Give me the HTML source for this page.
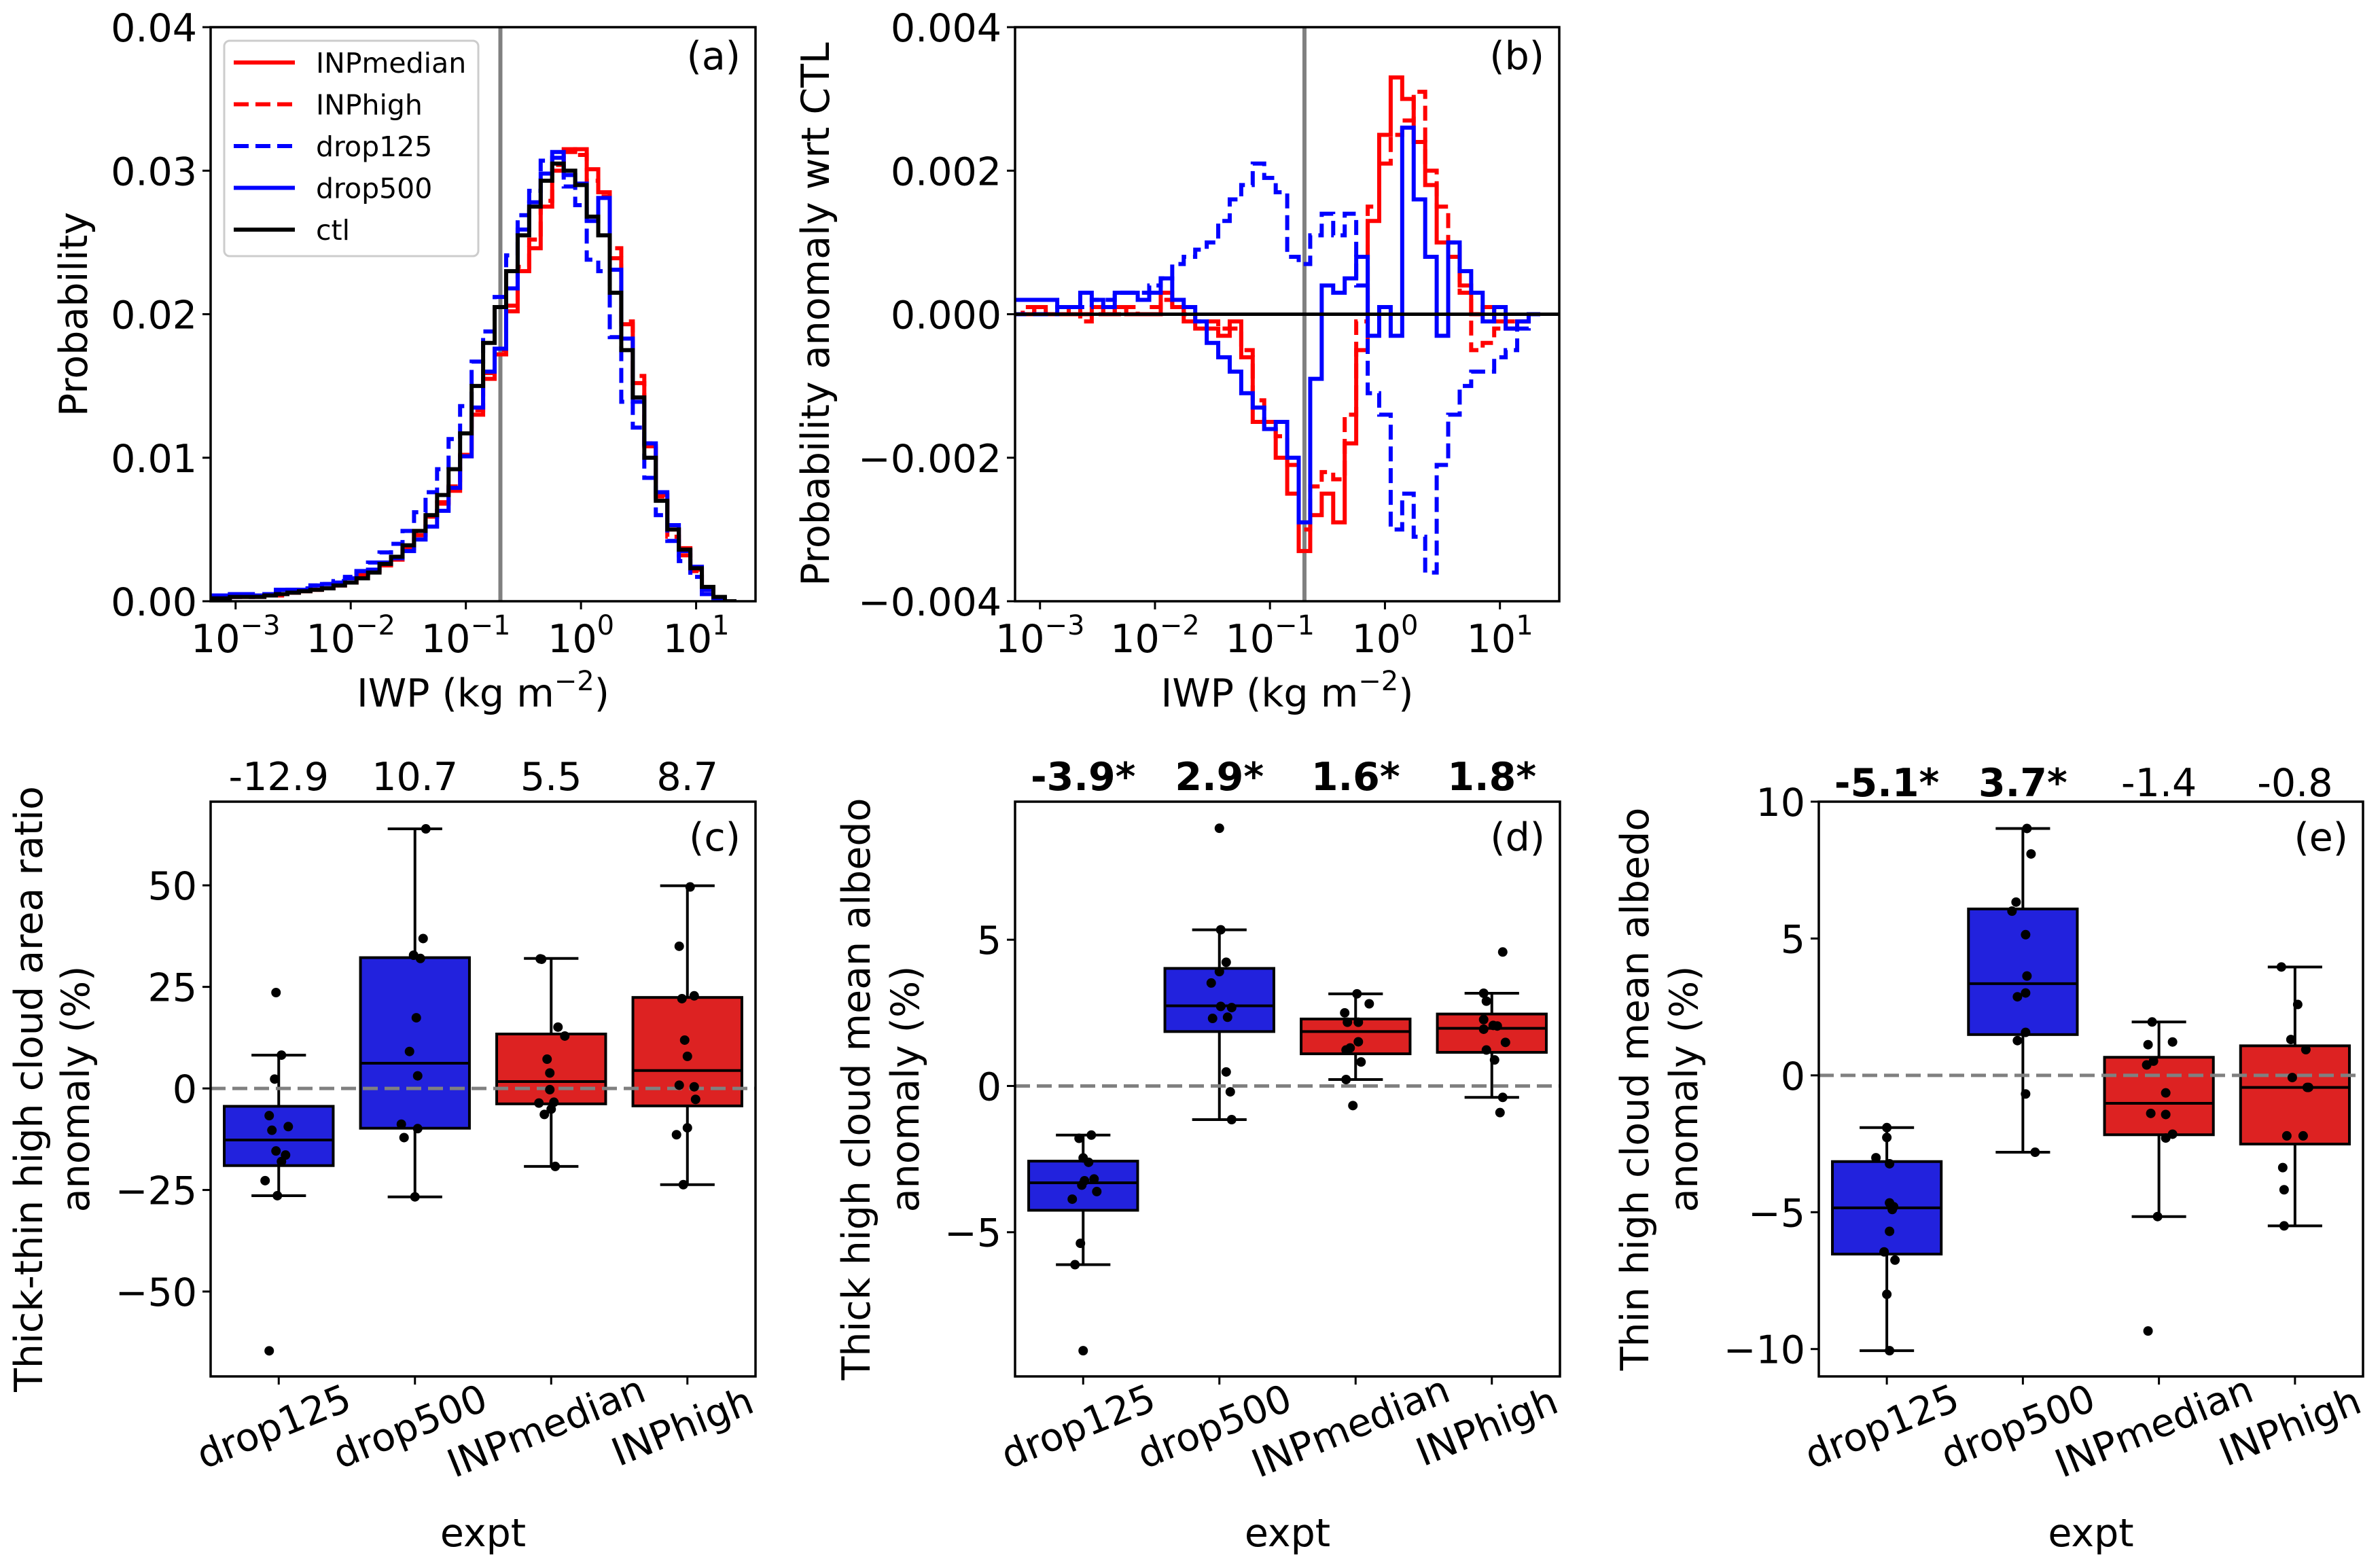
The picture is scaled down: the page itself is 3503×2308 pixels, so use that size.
<!DOCTYPE html>
<html><head><meta charset="utf-8"><style>
html,body{margin:0;padding:0;background:#fff}
svg{display:block}
text{font-family:"DejaVu Sans","Liberation Sans",sans-serif;fill:#000}
</style></head><body>
<svg id="fig" xmlns="http://www.w3.org/2000/svg" width="3503" height="2308" viewBox="0 0 3503 2308"></svg>
<script>
// ---------- DATA ----------
const iwpLog = [-3.2,-3.1,-3.0,-2.9,-2.8,-2.7,-2.6,-2.5,-2.4,-2.3,-2.2,-2.1,-2.0,-1.9,-1.8,-1.7,-1.6,-1.5,-1.4,-1.3,-1.2,-1.1,-1.0,-0.9,-0.8,-0.7,-0.6,-0.5,-0.4,-0.3,-0.2,-0.1,0.0,0.1,0.2,0.3,0.4,0.5,0.6,0.7,0.8,0.9,1.0,1.1,1.2,1.3];
const probCtl = [.0002,.0002,.0003,.0003,.0003,.0004,.0005,.0006,.0007,.0008,.0009,.0011,.0013,.0016,.0020,.0026,.0031,.0039,.0049,.0060,.0074,.0092,.0117,.0150,.0180,.0205,.0230,.0255,.0275,.0293,.0305,.0300,.0290,.0268,.0255,.0215,.0175,.0142,.0100,.0070,.0050,.0036,.0023,.0010,.0003,.0000];
const probINPmedian = [.0002,.0002,.0003,.0003,.0003,.0004,.0005,.0006,.0007,.0008,.0009,.0011,.0013,.0019,.0021,.0025,.0029,.0037,.0046,.0059,.0068,.0077,.0101,.0130,.0155,.0172,.0202,.0230,.0246,.0275,.0300,.0313,.0315,.0301,.0285,.0239,.0193,.0152,.0108,.0074,.0050,.0037,.0022,.0008,.0002,.0000];
const probINPhigh = [.0002,.0003,.0003,.0003,.0004,.0004,.0004,.0006,.0008,.0008,.0009,.0011,.0013,.0018,.0021,.0026,.0030,.0038,.0047,.0059,.0069,.0080,.0102,.0133,.0159,.0175,.0206,.0233,.0252,.0279,.0304,.0315,.0311,.0293,.0282,.0246,.0195,.0157,.0110,.0073,.0045,.0032,.0021,.0009,.0002,.0000];
const probDrop125 = [.0002,.0002,.0003,.0003,.0004,.0005,.0006,.0008,.0009,.0011,.0012,.0014,.0017,.0021,.0027,.0034,.0040,.0049,.0062,.0076,.0092,.0113,.0136,.0167,.0188,.0212,.0241,.0269,.0286,.0307,.0309,.0289,.0276,.0238,.0230,.0184,.0139,.0121,.0086,.0060,.0042,.0028,.0017,.0005,.0001,.0000];
const probDrop500 = [.0004,.0004,.0005,.0005,.0004,.0005,.0008,.0008,.0008,.0011,.0012,.0013,.0016,.0021,.0022,.0027,.0030,.0035,.0043,.0052,.0063,.0079,.0101,.0135,.0160,.0176,.0218,.0259,.0278,.0298,.0313,.0297,.0291,.0265,.0281,.0231,.0183,.0139,.0110,.0076,.0053,.0035,.0024,.0008,.0002,.0000];

const anomDrop125 = [.0000,.0000,.0000,.0000,.0001,.0001,.0001,.0002,.0002,.0003,.0003,.0003,.0004,.0005,.0007,.0008,.0009,.0010,.0013,.0016,.0018,.0021,.0019,.0017,.0008,.0007,.0011,.0014,.0011,.0014,.0004,-.0011,-.0014,-.0030,-.0025,-.0031,-.0036,-.0021,-.0014,-.0010,-.0008,-.0008,-.0006,-.0005,-.0002,.0000];
const anomDrop500 = [.0002,.0002,.0002,.0002,.0001,.0001,.0003,.0002,.0001,.0003,.0003,.0002,.0003,.0005,.0002,.0001,-.0001,-.0004,-.0006,-.0008,-.0011,-.0013,-.0016,-.0015,-.0020,-.0029,-.0009,.0004,.0003,.0005,.0008,-.0003,.0001,-.0003,.0026,.0016,.0008,-.0003,.0010,.0006,.0003,-.0001,.0001,-.0002,-.0001,.0000];
const anomINPmedian = [.0000,.0000,.0001,.0000,.0000,.0001,.0000,.0001,.0000,.0001,.0000,.0000,.0000,.0003,.0001,-.0001,-.0002,-.0002,-.0003,-.0001,-.0006,-.0015,-.0016,-.0020,-.0025,-.0033,-.0028,-.0025,-.0029,-.0018,-.0005,.0013,.0025,.0033,.0030,.0024,.0018,.0010,.0008,.0004,.0000,.0001,-.0001,-.0002,-.0001,.0000];
const anomINPhigh = [.0000,.0001,.0000,.0000,.0001,.0000,-.0001,.0000,.0001,.0000,.0001,.0000,.0001,.0002,.0001,.0000,-.0001,-.0001,-.0002,-.0002,-.0005,-.0012,-.0015,-.0017,-.0021,-.0030,-.0024,-.0022,-.0023,-.0014,-.0001,.0015,.0021,.0025,.0027,.0031,.0020,.0015,.0010,.0003,-.0005,-.0004,-.0002,-.0001,-.0001,.0000];

const probTicks = [0,0.01,0.02,0.03,0.04];
const probTickLabels = ["0.00","0.01","0.02","0.03","0.04"];
const anomTicks = [-0.004,-0.002,0,0.002,0.004];
const anomTickLabels = ["\u22120.004","\u22120.002","0.000","0.002","0.004"];
const logTicks = [-3,-2,-1,0,1];
const logTickLabels = ["\u22123","\u22122","\u22121","0","1"];
const iwpThresholdLog = -0.7;

const expts = ["drop125","drop500","INPmedian","INPhigh"];
// panel c
const cQ1 = [-19.0,-9.8,-3.8,-4.3], cQ3 = [-4.4,32.2,13.4,22.4], cMed = [-12.7,6.2,1.7,4.4], cLo = [-26.4,-26.7,-19.2,-23.7], cHi = [8.2,63.9,32,49.9];
const cPts = [[23.6,8.2,2.3,-6.7,-10.3,-9.4,-15.4,-16.4,-18,-22.7,-26.4,-64.6],[63.9,36.9,32.8,32,17.4,9.1,3.1,-8.8,-9.9,-12.1,-26.7],[31.9,31.8,15.1,12.9,7.2,3.8,-0.3,-3.4,-3.6,-5.1,-6.4,-19.2],[49.6,35,22.8,22.1,11.9,7.9,0.8,0.4,-2.7,-9.7,-11.4,-23.7]];
const cJit = [[-.02,.02,-.03,-.07,-.05,.07,-.02,.05,.02,-.1,-.01,-.07],[.08,.06,-.01,.04,.01,-.04,.02,-.1,.02,-.08,0],[-.08,-.07,.05,.1,-.03,-.01,-.01,.02,-.09,0,-.05,.03],[.02,-.06,.05,-.04,-.02,0,-.06,.05,.06,0,-.08,-.03]];
const cMeans = ["-12.9","10.7","5.5","8.7"], cBold=[false,false,false,false];
const cTicks = [-50,-25,0,25,50], cTickLabels = ["\u221250","\u221225","0","25","50"];
// panel d
const dQ1 = [-4.25,1.86,1.10,1.15], dQ3 = [-2.57,4.02,2.29,2.46], dMed = [-3.31,2.74,1.86,1.97], dLo = [-6.11,-1.15,0.22,-0.39], dHi = [-1.68,5.34,3.15,3.17];
const dPts = [[-1.68,-1.79,-2.46,-2.61,-3.18,-3.24,-3.39,-3.61,-3.87,-5.38,-6.11,-9.05],[8.81,5.34,4.23,3.91,3.52,2.72,2.68,2.35,2.31,0.48,-0.2,-1.15],[3.15,2.81,2.5,2.18,2.18,1.51,1.23,1.3,0.82,0.22,-0.67],[4.58,3.17,2.9,2.27,2.07,2.05,1.94,1.49,1.23,0.89,-0.39,-0.91]];
const dJit = [[.06,-.03,0,.04,.08,.01,-.01,.1,-.08,-.02,-.06,0],[0,.01,.05,0,-.06,.01,.09,.06,-.05,.05,.08,.09],[.01,.1,-.08,-.06,.02,.02,-.07,-.04,.04,-.07,-.02],[.08,-.06,-.04,-.06,.01,.04,-.06,.1,-.04,.02,.08,.06]];
const dMeans = ["-3.9*","2.9*","1.6*","1.8*"], dBold=[true,true,true,true];
const dTicks = [-5,0,5], dTickLabels = ["\u22125","0","5"];
// panel e
const eQ1 = [-6.53,1.49,-2.17,-2.51], eQ3 = [-3.15,6.08,0.66,1.08], eMed = [-4.84,3.35,-1.02,-0.44], eLo = [-10.06,-2.81,-5.16,-5.5], eHi = [-1.91,9.02,1.95,3.96];
const ePts = [[-1.91,-2.27,-3.01,-3.23,-4.66,-4.8,-4.9,-5.7,-6.45,-6.75,-8.0,-10.06],[9.02,8.09,6.33,6.0,5.14,3.63,3.01,2.87,1.57,1.27,-0.68,-2.81],[1.95,1.22,1.12,0.52,0.38,-0.64,-1.39,-1.43,-2.15,-2.29,-5.16,-9.34],[3.96,2.59,1.31,0.94,-0.08,-0.44,-0.44,-2.21,-2.21,-3.37,-4.18,-5.5]];
const eJit = [[0,0,-.08,.02,.02,.05,.04,.02,-.02,.06,0,.02],[.03,.06,-.05,-.08,.02,.03,.02,-.04,.02,-.04,.02,.09],[-.05,.1,-.08,-.04,-.09,.05,-.06,.05,.1,.05,-.01,-.08],[-.1,.02,-.03,.08,-.02,.1,.09,-.06,.06,-.09,-.08,-.08]];
const eMeans = ["-5.1*","3.7*","-1.4","-0.8"], eBold=[true,true,false,false];
const eTicks = [-10,-5,0,5,10], eTickLabels = ["\u221210","\u22125","0","5","10"];

// ---------- RENDER ----------
const NS="http://www.w3.org/2000/svg";
const svg=document.getElementById('fig');
function mk(tag,attrs,parent){const e=document.createElementNS(NS,tag);for(const k in attrs)e.setAttribute(k,attrs[k]);(parent||svg).appendChild(e);return e;}
function txt(str,x,y,size,anchor,parent,extra){const t=mk('text',Object.assign({x:x,y:y,'font-size':size,'text-anchor':anchor||'middle'},extra||{}),parent);t.textContent=str;return t;}
const FS=57;
const BLUE='#2222dd', RED='#dd2222';

function histPanel(id,x0,x1,y0,y1,ymin,ymax,yTicks,yTickLbl,series,ylabel,ylabX,plabel,zeroLine){
  const g=mk('g',{});
  
  
  const xlo=-3.217, xhi=1.516;
  const X=v=>x0+(v-xlo)/(xhi-xlo)*(x1-x0);
  const Y=v=>y1-(v-ymin)/(ymax-ymin)*(y1-y0);
  const cp=mk('clipPath',{id:id+'-clip'},g);mk('rect',{x:x0,y:y0,width:x1-x0,height:y1-y0},cp);
  const plot=mk('g',{'clip-path':'url(#'+id+'-clip)'},g);
  const th=mk('line',{x1:X(iwpThresholdLog),x2:X(iwpThresholdLog),y1:y0,y2:y1,stroke:'#808080','stroke-width':6},plot);
  
  
  series.forEach(s=>{
    let d='M'+X(iwpLog[0]-0.05)+','+Y(s.v[0]);
    for(let i=0;i<s.v.length;i++){
      d+=' H'+X(iwpLog[i]+0.05);
      if(i+1<s.v.length)d+=' V'+Y(s.v[i+1]);
    }
    const p=mk('path',{d:d,fill:'none',stroke:s.c,'stroke-width':6,'stroke-dasharray':s.dash?'22,10':'none','stroke-linejoin':'miter'},plot);
    
    
  });
  if(zeroLine){const z=mk('line',{x1:x0,x2:x1,y1:Y(0),y2:Y(0),stroke:'#000','stroke-width':5},plot);}
  mk('rect',{x:x0,y:y0,width:x1-x0,height:y1-y0,fill:'none',stroke:'#000','stroke-width':3.5},g);
  yTicks.forEach((t,i)=>{mk('line',{x1:x0-12,x2:x0,y1:Y(t),y2:Y(t),stroke:'#000','stroke-width':3},g);const tl=txt(yTickLbl[i],x0-20,Y(t)+21,FS,'end',g);});
  logTicks.forEach((t,i)=>{
    mk('line',{x1:X(t),x2:X(t),y1:y1,y2:y1+12,stroke:'#000','stroke-width':3},g);
    const tl=txt('10',X(t),960,FS,'middle',g);
    const ts=mk('tspan',{dy:-26,'font-size':40},tl);ts.textContent=logTickLabels[i];
    
    
  });
  const xl=txt('IWP (kg m',(x0+x1)/2,1040,FS,'middle',g);
  const sup=mk('tspan',{dy:-24,'font-size':40},xl);sup.textContent='\u22122';
  const cl=mk('tspan',{dy:24},xl);cl.textContent=')';
  
  
  const yl=txt(ylabel,0,0,FS,'middle',g,{transform:'translate('+ylabX+','+((y0+y1)/2)+') rotate(-90)'});
  
  
  const pl=txt(plabel,x1-22,y0+62,FS,'end',g);
  
  
  return {g,X,Y};
}

histPanel('panel-a',310,1112,40,885,0,0.04,probTicks,probTickLabels,[
  {name:'INPmedian',v:probINPmedian,c:'#ff0000',dash:false},
  {name:'INPhigh',v:probINPhigh,c:'#ff0000',dash:true},
  {name:'drop125',v:probDrop125,c:'#0000ff',dash:true},
  {name:'drop500',v:probDrop500,c:'#0000ff',dash:false},
  {name:'ctl',v:probCtl,c:'#000000',dash:false}],'Probability',128,'(a)',false);
histPanel('panel-b',1494,2295,40,885,-0.004,0.004,anomTicks,anomTickLabels,[
  {name:'INPmedian',v:anomINPmedian,c:'#ff0000',dash:false},
  {name:'INPhigh',v:anomINPhigh,c:'#ff0000',dash:true},
  {name:'drop125',v:anomDrop125,c:'#0000ff',dash:true},
  {name:'drop500',v:anomDrop500,c:'#0000ff',dash:false}],'Probability anomaly wrt CTL',1220,'(b)',true);

// legend
(function(){
  const g=mk('g',{});
  
  
  mk('rect',{x:330,y:60,width:374,height:317,rx:8,fill:'#fff','fill-opacity':0.8,stroke:'#cccccc','stroke-width':3},g);
  const ent=[['INPmedian','#ff0000',false],['INPhigh','#ff0000',true],['drop125','#0000ff',true],['drop500','#0000ff',false],['ctl','#000',false]];
  ent.forEach((e,i)=>{
    const y=92+i*61.5;
    const eg=mk('g',{},g);
    
    
    mk('line',{x1:344,x2:434,y1:y,y2:y,stroke:e[1],'stroke-width':6,'stroke-dasharray':e[2]?'22,10':'none'},eg);
    txt(e[0],465,y+15,41,'start',eg);
  });
})();

function boxPanel(id,x0,x1,y0,y1,ymin,ymax,yTicks,yTickLbl,q1,q3,med,lo,hi,pts,jit,means,bold,ylab1,ylab2,lx1,lx2,plabel,meanY){
  const g=mk('g',{});
  
  
  const Y=v=>y1-(v-ymin)/(ymax-ymin)*(y1-y0);
  const step=(x1-x0)/4;
  const X=i=>x0+step*(i+0.5);
  const cp=mk('clipPath',{id:id+'-clip'},g);mk('rect',{x:x0,y:y0,width:x1-x0,height:y1-y0},cp);
  const plot=mk('g',{'clip-path':'url(#'+id+'-clip)'},g);
  const bw=step*0.8;
  expts.forEach((e,i)=>{
    const bg=mk('g',{},plot);
    
    
    const col=i<2?BLUE:RED;
    mk('line',{x1:X(i),x2:X(i),y1:Y(hi[i]),y2:Y(q3[i]),stroke:'#000','stroke-width':4},bg);
    mk('line',{x1:X(i),x2:X(i),y1:Y(q1[i]),y2:Y(lo[i]),stroke:'#000','stroke-width':4},bg);
    mk('line',{x1:X(i)-bw/4,x2:X(i)+bw/4,y1:Y(hi[i]),y2:Y(hi[i]),stroke:'#000','stroke-width':4},bg);
    mk('line',{x1:X(i)-bw/4,x2:X(i)+bw/4,y1:Y(lo[i]),y2:Y(lo[i]),stroke:'#000','stroke-width':4},bg);
    mk('rect',{x:X(i)-bw/2,y:Y(q3[i]),width:bw,height:Y(q1[i])-Y(q3[i]),fill:col,stroke:'#000','stroke-width':4},bg);
    mk('line',{x1:X(i)-bw/2,x2:X(i)+bw/2,y1:Y(med[i]),y2:Y(med[i]),stroke:'#000','stroke-width':4},bg);
  });
  const zl=mk('line',{x1:x0,x2:x1,y1:Y(0),y2:Y(0),stroke:'#808080','stroke-width':5,'stroke-dasharray':'22,10'},plot);
  
  
  expts.forEach((e,i)=>{
    pts[i].forEach((v,j)=>{
      const c=mk('circle',{cx:X(i)+jit[i][j]*step,cy:Y(v),r:7,fill:'#000'},plot);
      
      
    });
  });
  mk('rect',{x:x0,y:y0,width:x1-x0,height:y1-y0,fill:'none',stroke:'#000','stroke-width':3.5},g);
  yTicks.forEach((t,i)=>{mk('line',{x1:x0-12,x2:x0,y1:Y(t),y2:Y(t),stroke:'#000','stroke-width':3},g);const tl=txt(yTickLbl[i],x0-20,Y(t)+21,FS,'end',g);});
  expts.forEach((e,i)=>{
    mk('line',{x1:X(i),x2:X(i),y1:y1,y2:y1+12,stroke:'#000','stroke-width':3},g);
    const t=txt(e,0,0,FS,'middle',g,{transform:'translate('+X(i)+','+2118+') rotate(-22)'});
    
    
    const m=txt(means[i],X(i),meanY,FS,'middle',g,bold[i]?{'font-weight':'bold'}:{});
    
    
  });
  const xt=txt('expt',(x0+x1)/2,2276,FS,'middle',g);
  
  
  const yl1=txt(ylab1,0,0,FS,'middle',g,{transform:'translate('+lx1+','+((y0+y1)/2)+') rotate(-90)'});
  
  
  const yl2=txt(ylab2,0,0,FS,'middle',g,{transform:'translate('+lx2+','+((y0+y1)/2)+') rotate(-90)'});
  
  
  const pl=txt(plabel,x1-22,y0+72,FS,'end',g);
  
  
}
boxPanel('panel-c',310,1112,1180,2026,-70.9,70.6,cTicks,cTickLabels,cQ1,cQ3,cMed,cLo,cHi,cPts,cJit,cMeans,cBold,'Thick-thin high cloud area ratio','anomaly (%)',62,131,'(c)',1163);
boxPanel('panel-d',1494,2296,1180,2026,-9.93,9.72,dTicks,dTickLabels,dQ1,dQ3,dMed,dLo,dHi,dPts,dJit,dMeans,dBold,'Thick high cloud mean albedo','anomaly (%)',1280,1352,'(d)',1163);
boxPanel('panel-e',2677,3478,1180,2026,-11.0,10.0,eTicks,eTickLabels,eQ1,eQ3,eMed,eLo,eHi,ePts,eJit,eMeans,eBold,'Thin high cloud mean albedo','anomaly (%)',2426,2498,'(e)',1172);
</script>
</body></html>
